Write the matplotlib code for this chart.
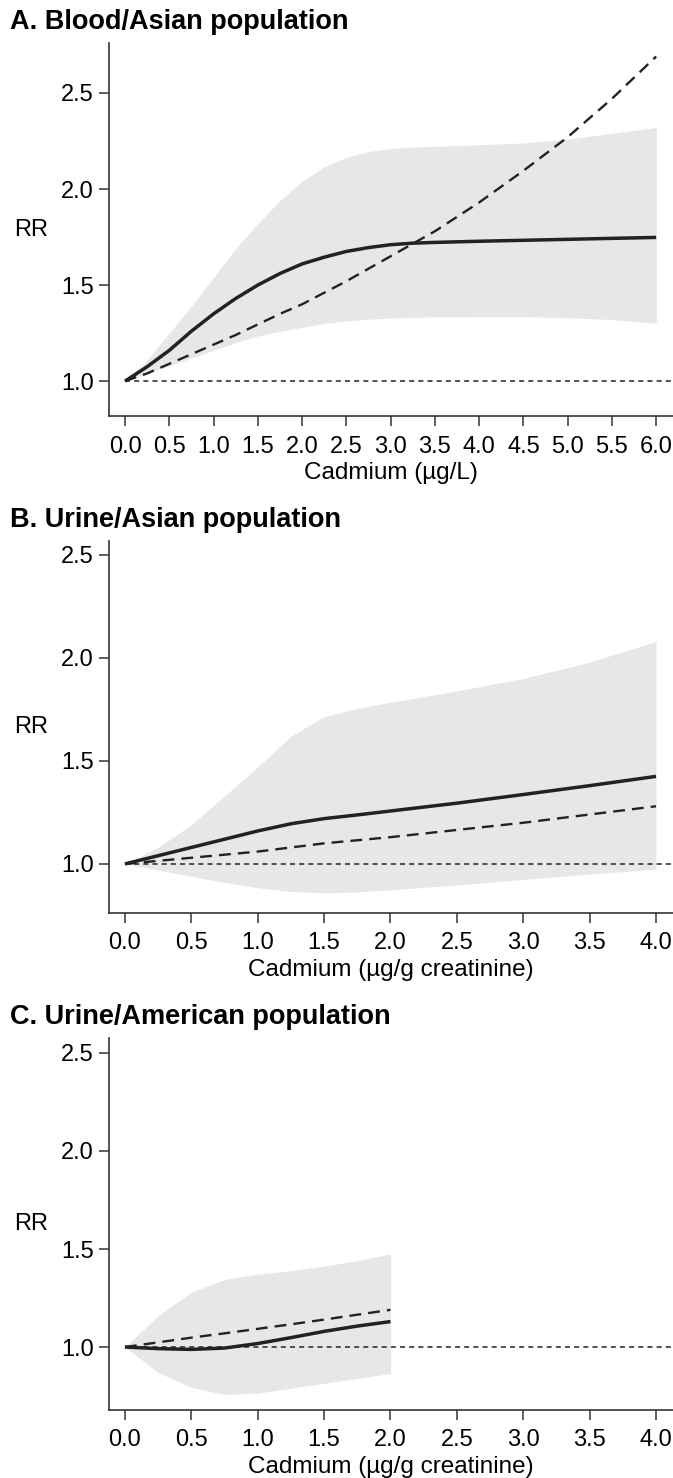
import matplotlib
matplotlib.use('Agg')
import matplotlib.pyplot as plt

plt.rcParams['font.family'] = ['Liberation Sans', 'DejaVu Sans']

# A. Blood cadmium, Asian population
blood_x = [0, 0.25, 0.5, 0.75, 1.0, 1.25, 1.5, 1.75, 2.0, 2.25, 2.5, 2.75, 3.0, 3.25, 3.5, 4.0, 4.5, 5.0, 5.5, 6.0]
blood_rr = [1.00, 1.075, 1.16, 1.26, 1.35, 1.43, 1.50, 1.56, 1.61, 1.645, 1.675, 1.695, 1.71, 1.718, 1.722, 1.728, 1.733, 1.738, 1.743, 1.748]
blood_lin = [1.00, 1.04, 1.09, 1.14, 1.19, 1.24, 1.295, 1.35, 1.40, 1.46, 1.52, 1.585, 1.65, 1.715, 1.78, 1.93, 2.095, 2.27, 2.47, 2.69]
blood_hi = [1.00, 1.11, 1.25, 1.39, 1.54, 1.69, 1.82, 1.94, 2.04, 2.115, 2.165, 2.195, 2.21, 2.218, 2.222, 2.23, 2.24, 2.26, 2.29, 2.32]
blood_lo = [1.00, 1.04, 1.08, 1.12, 1.16, 1.20, 1.235, 1.26, 1.28, 1.30, 1.313, 1.322, 1.328, 1.332, 1.334, 1.335, 1.335, 1.33, 1.32, 1.30]

# B. Urine cadmium, Asian population
ua_x = [0, 0.25, 0.5, 0.75, 1.0, 1.25, 1.5, 1.75, 2.0, 2.5, 3.0, 3.5, 4.0]
ua_rr = [1.00, 1.04, 1.08, 1.12, 1.16, 1.195, 1.22, 1.238, 1.257, 1.295, 1.337, 1.38, 1.425]
ua_lin = [1.00, 1.015, 1.03, 1.045, 1.06, 1.08, 1.10, 1.115, 1.13, 1.165, 1.20, 1.24, 1.28]
ua_hi = [1.00, 1.08, 1.19, 1.33, 1.47, 1.62, 1.715, 1.755, 1.785, 1.84, 1.90, 1.98, 2.08]
ua_lo = [1.00, 0.97, 0.94, 0.91, 0.885, 0.866, 0.86, 0.864, 0.874, 0.898, 0.925, 0.95, 0.975]

# C. Urine cadmium, American population
um_x = [0, 0.25, 0.5, 0.75, 1.0, 1.25, 1.5, 1.75, 2.0]
um_rr = [1.00, 0.992, 0.988, 0.995, 1.018, 1.048, 1.08, 1.107, 1.13]
um_lin = [1.00, 1.024, 1.048, 1.07, 1.093, 1.116, 1.14, 1.165, 1.19]
um_hi = [1.00, 1.16, 1.28, 1.345, 1.372, 1.39, 1.413, 1.44, 1.475]
um_lo = [1.00, 0.87, 0.795, 0.758, 0.765, 0.79, 0.815, 0.84, 0.865]

blood_ticks = [0, 0.5, 1.0, 1.5, 2.0, 2.5, 3.0, 3.5, 4.0, 4.5, 5.0, 5.5, 6.0]
urine_ticks = [0, 0.5, 1.0, 1.5, 2.0, 2.5, 3.0, 3.5, 4.0]
rr_ticks = [1.0, 1.5, 2.0, 2.5]

panels = [
    ('A. Blood/Asian population', blood_x, blood_rr, blood_lin, blood_hi, blood_lo,
     blood_ticks, 'Cadmium (µg/L)', (-0.181, 6.19), (0.818, 2.76), [0.162, 0.7185, 0.838, 0.2524]),
    ('B. Urine/Asian population', ua_x, ua_rr, ua_lin, ua_hi, ua_lo,
     urine_ticks, 'Cadmium (µg/g creatinine)', (-0.12, 4.128), (0.762, 2.568), [0.162, 0.3823, 0.838, 0.2517]),
    ('C. Urine/American population', um_x, um_rr, um_lin, um_hi, um_lo,
     urine_ticks, 'Cadmium (µg/g creatinine)', (-0.12, 4.128), (0.679, 2.576), [0.162, 0.046, 0.838, 0.2517]),
]

fig = plt.figure(figsize=(6.73, 14.78), dpi=100)

for title, x, rr, lin, hi, lo, xt, xlab, xlim, ylim, pos in panels:
    ax = fig.add_axes(pos)
    ax.fill_between(x, lo, hi, color='#e7e7e7', lw=0, zorder=1)
    ax.axhline(1.0, xmin=(0 - xlim[0]) / (xlim[1] - xlim[0]), color='#333333',
               lw=1.2, ls=(0, (3, 2.5)), zorder=2)
    ax.plot(x, lin, color='#222222', lw=1.7, ls=(0, (5, 3)), zorder=3)
    ax.plot(x, rr, color='#222222', lw=2.5, zorder=4, solid_capstyle='butt')

    ax.set_xlim(xlim)
    ax.set_ylim(ylim)
    ax.set_xticks(xt)
    ax.set_xticklabels(['%.1f' % v for v in xt])
    ax.set_yticks(rr_ticks)
    ax.set_yticklabels(['%.1f' % v for v in rr_ticks])
    ax.tick_params(direction='out', length=7, width=1.1, labelsize=17, pad=4, color='#333333')
    ax.tick_params(axis='x', pad=7)

    for s in ['top', 'right']:
        ax.spines[s].set_visible(False)
    for s in ['left', 'bottom']:
        ax.spines[s].set_linewidth(1.2)
        ax.spines[s].set_color('#333333')

    ax.set_xlabel(xlab, fontsize=17.5, labelpad=3)
    ax.set_ylabel('RR', fontsize=17, rotation=0, va='center', ha='center')
    ax.yaxis.set_label_coords(-0.138, 0.5)
    ax.text(-0.175, 1.057, title, transform=ax.transAxes, fontsize=19.5,
            fontweight='bold', ha='left', va='center')

fig.savefig('out.png', dpi=100)
